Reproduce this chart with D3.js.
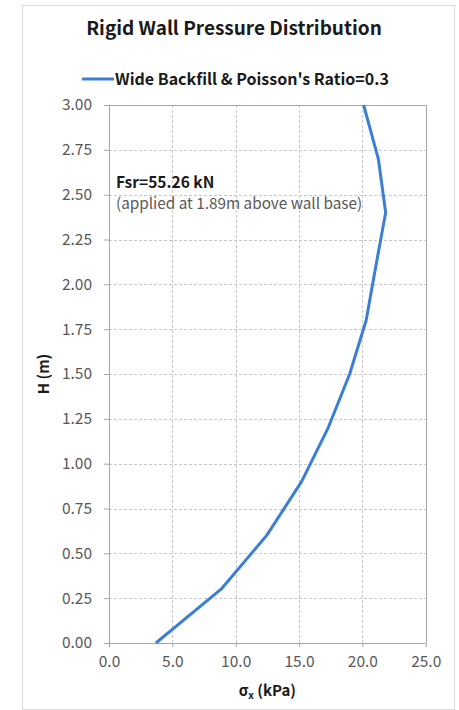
<!DOCTYPE html>
<html>
<head>
<meta charset="utf-8">
<script src="https://cdn.jsdelivr.net/npm/d3@7"></script>
<style>
  html, body { margin: 0; padding: 0; background: #fff; }
  svg { display: block; }
</style>
</head>
<body>
<svg id="chart" width="459" height="710"></svg>
<script>
// Lateral pressure on a rigid wall against height above the wall base
const heights  = [0.0, 0.3, 0.6, 0.9, 1.2, 1.5, 1.8, 2.1, 2.4, 2.7, 3.0];      // H (m)
const pressures = [3.7, 8.85, 12.45, 15.2, 17.3, 19.0, 20.3, 21.06, 21.84, 21.26, 20.1]; // σx (kPa)

const xTicks = [0, 5, 10, 15, 20, 25];
const yTicks = [0, 0.25, 0.5, 0.75, 1.0, 1.25, 1.5, 1.75, 2.0, 2.25, 2.5, 2.75, 3.0];

const titleText  = "Rigid Wall Pressure Distribution";
const seriesName = "Wide Backfill & Poisson's Ratio=0.3";
const forceText  = "Fsr=55.26 kN";
const forceNote  = "(applied at 1.89m above wall base)";

const FONT = "'Noto Sans CJK JP', 'Noto Sans', sans-serif";
const LINE = "#3b7fd5";
const AXIS = "#a6a6a6";
const GRID = "#c8c8c8";
const TEXT = "#595959";

const svg = d3.select("#chart").style("font-family", FONT);

// Outer chart frame
svg.append("rect")
  .attr("x", 22.5).attr("y", 5.5).attr("width", 432).attr("height", 704)
  .attr("fill", "#fff").attr("stroke", "#d9d9d9");

const plot = { left: 109, right: 425.7, top: 105, bottom: 643 };

const x = d3.scaleLinear().domain([0, 25]).range([plot.left, plot.right]);
const y = d3.scaleLinear().domain([0, 3]).range([plot.bottom, plot.top]);

// Grid
const grid = svg.append("g").attr("stroke", GRID).attr("stroke-dasharray", "3,2").attr("stroke-width", 1);
grid.selectAll("line.h").data(yTicks.slice(1, -1)).join("line")
  .attr("x1", plot.left).attr("x2", plot.right)
  .attr("y1", d => Math.round(y(d)) + 0.5).attr("y2", d => Math.round(y(d)) + 0.5);
grid.selectAll("line.v").data(xTicks.slice(1, -1)).join("line")
  .attr("y1", plot.top).attr("y2", plot.bottom)
  .attr("x1", d => Math.round(x(d)) + 0.5).attr("x2", d => Math.round(x(d)) + 0.5);

// Plot border (top and right)
svg.append("path")
  .attr("d", `M${plot.left},${Math.round(plot.top) + 0.5}H${Math.round(plot.right) + 0.5}V${plot.bottom}`)
  .attr("fill", "none").attr("stroke", AXIS);

// Axes
const xAxis = d3.axisBottom(x).tickValues(xTicks).tickFormat(d3.format(".1f")).tickSize(4).tickPadding(9);
const yAxis = d3.axisLeft(y).tickValues(yTicks).tickFormat(d3.format(".2f")).tickSize(5).tickPadding(12);

const gx = svg.append("g").attr("transform", `translate(0,${plot.bottom})`).call(xAxis);
const gy = svg.append("g").attr("transform", `translate(${plot.left},0)`).call(yAxis);
[gx, gy].forEach(g => {
  g.select(".domain").attr("stroke", AXIS);
  g.selectAll(".tick line").attr("stroke", AXIS);
  g.selectAll(".tick text").attr("fill", TEXT).style("font-family", FONT).style("font-size", "15.5px");
});
gx.select(".domain").attr("d", `M${plot.left},0.5H${plot.right}`);
gy.select(".domain").attr("d", `M0.5,${plot.top}V${plot.bottom}`);

// Pressure profile
const line = d3.line().x(d => x(d[1])).y(d => y(d[0]));
svg.append("path")
  .datum(heights.map((h, i) => [h, pressures[i]]))
  .attr("d", line)
  .attr("fill", "none").attr("stroke", LINE).attr("stroke-width", 3)
  .attr("stroke-linejoin", "round");

// Title
svg.append("text")
  .attr("x", 234).attr("y", 35).attr("text-anchor", "middle")
  .attr("fill", "#1a1a1a").style("font-size", "19px").style("font-weight", "bold")
  .text(titleText);

// Legend
svg.append("line")
  .attr("x1", 82).attr("x2", 114).attr("y1", 79).attr("y2", 79)
  .attr("stroke", LINE).attr("stroke-width", 3);
svg.append("text")
  .attr("x", 115).attr("y", 85)
  .attr("fill", "#1a1a1a").style("font-size", "16px").style("font-weight", "bold")
  .text(seriesName);

// Resultant force annotation
svg.append("text")
  .attr("x", 116).attr("y", 187.5)
  .attr("fill", "#1a1a1a").style("font-size", "15.5px").style("font-weight", "bold")
  .text(forceText);
svg.append("text")
  .attr("x", 116).attr("y", 208.5)
  .attr("fill", TEXT).style("font-size", "15.3px")
  .text(forceNote);

// Axis titles
const xt = svg.append("text")
  .attr("x", (plot.left + plot.right) / 2).attr("y", 696).attr("text-anchor", "middle")
  .attr("fill", "#1a1a1a").style("font-size", "15px").style("font-weight", "bold");
xt.append("tspan").text("σ");
xt.append("tspan").attr("dy", 3).style("font-size", "10px").text("x");
xt.append("tspan").attr("dy", -3).text(" (kPa)");

svg.append("text")
  .attr("transform", `translate(49,${(plot.top + plot.bottom) / 2}) rotate(-90)`)
  .attr("text-anchor", "middle")
  .attr("fill", "#1a1a1a").style("font-size", "15px").style("font-weight", "bold")
  .text("H (m)");
</script>
</body>
</html>
